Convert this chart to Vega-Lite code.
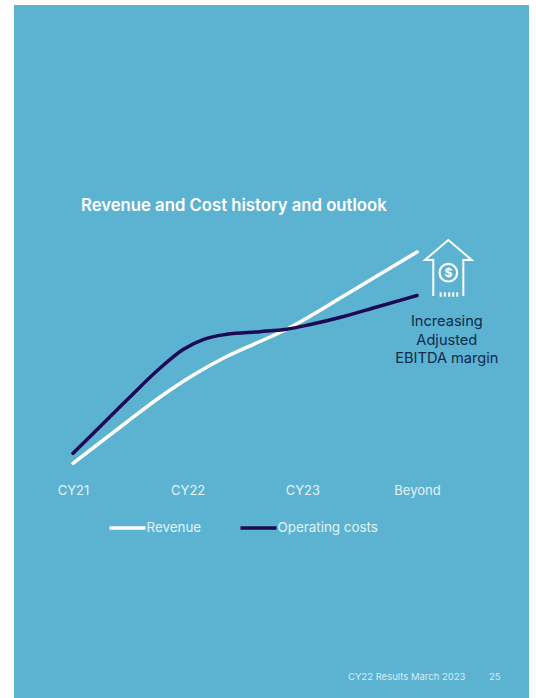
{
  "$schema": "https://vega.github.io/schema/vega-lite/v6.json",
  "width": 515,
  "height": 693,
  "padding": {"left": 14, "top": 5, "right": 7, "bottom": 0},
  "autosize": "none",
  "background": "#ffffff",
  "view": {"fill": "#5cb2d1", "stroke": null},
  "config": {"font": "Inter"},
  "datasets": {
    "curves": [
      {"series": "Revenue", "t": 2021.0, "v": 234.7},
      {"series": "Revenue", "t": 2021.18, "v": 250.5},
      {"series": "Revenue", "t": 2021.47, "v": 276},
      {"series": "Revenue", "t": 2021.76, "v": 301},
      {"series": "Revenue", "t": 2022.05, "v": 323},
      {"series": "Revenue", "t": 2022.34, "v": 341.5},
      {"series": "Revenue", "t": 2022.63, "v": 356.5},
      {"series": "Revenue", "t": 2022.86, "v": 368.5},
      {"series": "Revenue", "t": 2023.07, "v": 382},
      {"series": "Revenue", "t": 2023.36, "v": 402},
      {"series": "Revenue", "t": 2023.65, "v": 422},
      {"series": "Revenue", "t": 2024.0, "v": 446},
      {"series": "Operating costs", "t": 2021.0, "v": 244.7},
      {"series": "Operating costs", "t": 2021.18, "v": 265},
      {"series": "Operating costs", "t": 2021.47, "v": 298},
      {"series": "Operating costs", "t": 2021.76, "v": 330},
      {"series": "Operating costs", "t": 2021.96, "v": 348.5},
      {"series": "Operating costs", "t": 2022.14, "v": 358.7},
      {"series": "Operating costs", "t": 2022.34, "v": 363.7},
      {"series": "Operating costs", "t": 2022.63, "v": 366.3},
      {"series": "Operating costs", "t": 2022.86, "v": 368.7},
      {"series": "Operating costs", "t": 2023.07, "v": 373.5},
      {"series": "Operating costs", "t": 2023.36, "v": 381.5},
      {"series": "Operating costs", "t": 2023.65, "v": 391},
      {"series": "Operating costs", "t": 2024.0, "v": 402.5}
    ],
    "icon": [
      {"part": "house", "n": 1, "t": 2024.142, "v": 402},
      {"part": "house", "n": 2, "t": 2024.142, "v": 438},
      {"part": "house", "n": 3, "t": 2024.069, "v": 438},
      {"part": "house", "n": 4, "t": 2024.273, "v": 458},
      {"part": "house", "n": 5, "t": 2024.477, "v": 438},
      {"part": "house", "n": 6, "t": 2024.404, "v": 438},
      {"part": "house", "n": 7, "t": 2024.404, "v": 402},
      {"part": "tick1", "n": 1, "t": 2024.206, "v": 405.7},
      {"part": "tick1", "n": 2, "t": 2024.206, "v": 401.3},
      {"part": "tick2", "n": 1, "t": 2024.243, "v": 405.7},
      {"part": "tick2", "n": 2, "t": 2024.243, "v": 401.3},
      {"part": "tick3", "n": 1, "t": 2024.281, "v": 405.7},
      {"part": "tick3", "n": 2, "t": 2024.281, "v": 401.3},
      {"part": "tick4", "n": 1, "t": 2024.316, "v": 405.7},
      {"part": "tick4", "n": 2, "t": 2024.316, "v": 401.3},
      {"part": "tick5", "n": 1, "t": 2024.351, "v": 405.7},
      {"part": "tick5", "n": 2, "t": 2024.351, "v": 401.3}
    ]
  },
  "encoding": {
    "x": {
      "field": "t",
      "type": "quantitative",
      "scale": {"domain": [2020.4855, 2024.9766], "nice": false, "zero": false},
      "axis": {
        "values": [2021, 2022, 2023, 2024],
        "labelExpr": "datum.value == 2024 ? 'Beyond' : 'CY' + (datum.value - 2000)",
        "title": null,
        "domain": false,
        "ticks": false,
        "grid": false,
        "offset": -214,
        "labelPadding": 0,
        "labelFontSize": 13,
        "labelColor": "#e3f2f7",
        "labelFlush": false
      }
    },
    "y": {
      "field": "v",
      "type": "quantitative",
      "scale": {"domain": [0, 693], "nice": false, "zero": false},
      "axis": null
    }
  },
  "layer": [
    {
      "data": {"name": "curves"},
      "mark": {"type": "line", "interpolate": "monotone", "strokeWidth": 3.5, "strokeCap": "round"},
      "encoding": {
        "color": {
          "field": "series",
          "type": "nominal",
          "sort": ["Revenue", "Operating costs"],
          "scale": {"domain": ["Revenue", "Operating costs"], "range": ["#ffffff", "#1d0a55"]},
          "legend": {
            "orient": "none",
            "direction": "horizontal",
            "legendX": 93.5,
            "legendY": 503,
            "title": null,
            "symbolType": "stroke",
            "symbolSize": 1296,
            "symbolStrokeWidth": 3.5,
            "labelFontSize": 13.4,
            "labelColor": "#e3f2f7",
            "labelOffset": -1,
            "columnPadding": 32
          }
        },
        "order": {"field": "t", "type": "quantitative"}
      }
    },
    {
      "data": {"name": "icon"},
      "mark": {"type": "line", "color": "#ffffff", "strokeWidth": 2, "strokeJoin": "miter"},
      "encoding": {
        "detail": {"field": "part", "type": "nominal"},
        "order": {"field": "n", "type": "quantitative"}
      }
    },
    {
      "data": {"values": [{"t": 2024.273, "v": 425.3}]},
      "mark": {"type": "point", "shape": "circle", "filled": false, "color": "#ffffff", "size": 310, "strokeWidth": 2.2, "opacity": 1}
    },
    {
      "data": {"values": [{"label": "$", "t": 2024.273, "v": 425}]},
      "mark": {"type": "text", "color": "#ffffff", "fontSize": 12, "fontWeight": "bold", "baseline": "middle", "align": "center"},
      "encoding": {"text": {"field": "label"}}
    },
    {
      "data": {"values": [{"label": "Revenue and Cost history and outlook", "t": 2021.07, "v": 492.5}]},
      "mark": {"type": "text", "color": "#ffffff", "fontSize": 16.7, "fontWeight": 600, "align": "left", "baseline": "middle"},
      "encoding": {"text": {"field": "label"}}
    },
    {
      "data": {"values": [
        {"label": "Increasing", "t": 2024.26, "v": 376},
        {"label": "Adjusted", "t": 2024.26, "v": 357},
        {"label": "EBITDA margin", "t": 2024.26, "v": 339}
      ]},
      "mark": {"type": "text", "color": "#10294d", "fontSize": 14.6, "align": "center", "baseline": "middle"},
      "encoding": {"text": {"field": "label"}}
    },
    {
      "data": {"values": [
        {"label": "CY22 Results March 2023", "t": 2023.398, "v": 21},
        {"label": "25", "t": 2024.628, "v": 21}
      ]},
      "mark": {"type": "text", "color": "#d6edf5", "fontSize": 9.5, "align": "left", "baseline": "middle"},
      "encoding": {"text": {"field": "label"}}
    }
  ]
}
